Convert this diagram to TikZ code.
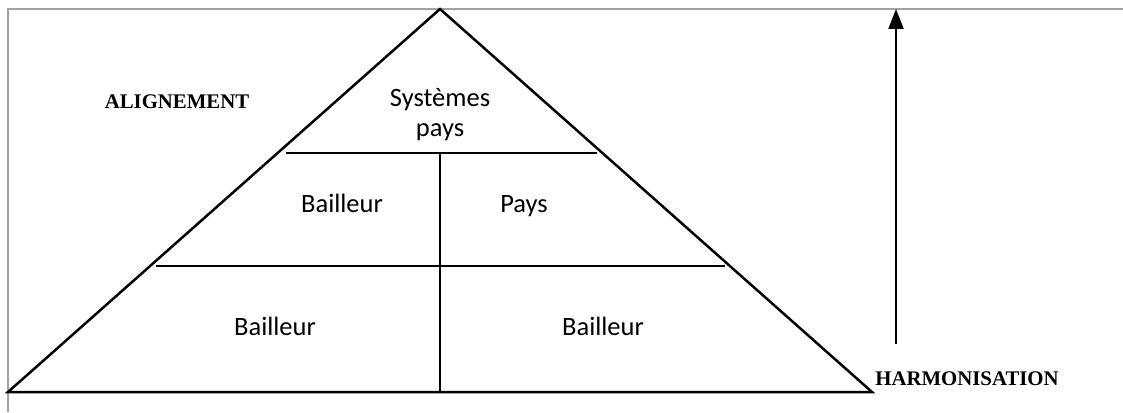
\documentclass[tikz,border=0pt]{standalone}
\usepackage{fontspec}
\setmainfont{Liberation Serif}
\newfontfamily\calib{Carlito}
\usetikzlibrary{arrows.meta}
\tikzset{
  frameline/.style={draw=black!37, line width=2pt},
  pyr/.style={draw=black, line width=2.5pt, line join=miter},
  sep/.style={draw=black, line width=2.5pt},
  celltext/.style={font=\calib\fontsize{26.5}{30}\selectfont, align=center, inner sep=0pt, anchor=base},
  sidetext/.style={font=\bfseries\fontsize{20.8}{24}\selectfont, inner sep=0pt},
  uparrow/.style={draw=black, line width=2.2pt, -{Triangle[length=20pt,width=15pt]}}
}
\begin{document}
\begin{tikzpicture}[x=1pt,y=-1pt]
\useasboundingbox (0,0) rectangle (1123,412);
% frame
\coordinate (fbl) at (8,412);
\coordinate (ftl) at (8,9);
\coordinate (ftr) at (1123,9);
\draw[frameline] (fbl) -- (ftl) -- (ftr);
% pyramid
\coordinate (apex) at (440,9);
\coordinate (bl) at (8,392);
\coordinate (br) at (872,392);
\draw[pyr] (apex) -- (br) -- (bl) -- cycle;
\coordinate (l1a) at (286,153);
\coordinate (l1b) at (597,153);
\coordinate (l2a) at (156,266);
\coordinate (l2b) at (725,266);
\coordinate (vt) at (440,153);
\coordinate (vb) at (440,392);
\draw[sep] (l1a) -- (l1b);
\draw[sep] (l2a) -- (l2b);
\draw[sep] (vt) -- (vb);
% texts
\node[celltext] (sys) at (440,136) {Systèmes\\pays};
\node[celltext] (b1) at (342,212) {Bailleur};
\node[celltext] (p1) at (524,212) {Pays};
\node[celltext] (b2) at (275,335) {Bailleur};
\node[celltext] (b3) at (603,335) {Bailleur};
\node[sidetext] (al) at (177,102) {ALIGNEMENT};
\node[sidetext] (ha) at (967,379) {HARMONISATION};
% arrow
\coordinate (as) at (896,344);
\coordinate (ae) at (896,9);
\draw[uparrow] (as) -- (ae);
\end{tikzpicture}
\end{document}
